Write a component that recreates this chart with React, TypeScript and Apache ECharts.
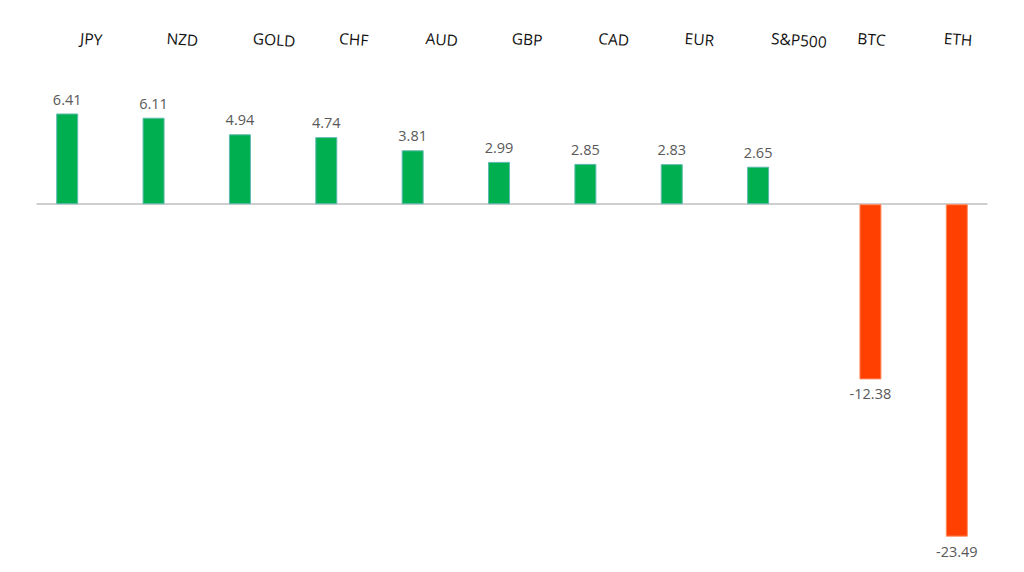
import React, { useEffect, useRef } from "react";
import * as echarts from "echarts";

const categories = ["JPY", "NZD", "GOLD", "CHF", "AUD", "GBP", "CAD", "EUR", "S&P500", "BTC", "ETH"];
const gains = [6.41, 6.11, 4.94, 4.74, 3.81, 2.99, 2.85, 2.83, 2.65, null, null];
const losses = [null, null, null, null, null, null, null, null, null, -12.38, -23.49];

export default function App() {
  const ref = useRef<HTMLDivElement>(null);
  useEffect(() => {
    document.body.style.margin = "0";
    const chart = echarts.init(ref.current!, null, { renderer: "svg" });
    const font = "'Open Sans', 'Noto Sans', sans-serif";
    chart.setOption({
      animation: false,
      backgroundColor: "#ffffff",
      grid: { left: 37, right: 37, top: 91, bottom: 14, containLabel: false },
      xAxis: [
        {
          type: "category",
          data: categories,
          position: "top",
          axisLine: { show: false, onZero: false },
          axisTick: { show: false },
          axisLabel: {
            show: true,
            align: "left",
            margin: 53,
            rotate: 4,
            color: "#111111",
            fontSize: 15.5,
            fontFamily: font,
            interval: 0,
          },
        },
        {
          type: "category",
          data: categories,
          position: "bottom",
          axisLine: { show: true, onZero: true, lineStyle: { color: "#bfbfbf", width: 1.5 } },
          axisTick: { show: false },
          axisLabel: { show: false },
        },
      ],
      yAxis: {
        type: "value",
        min: -25,
        max: 8,
        show: false,
        splitLine: { show: false },
      },
      series: [
        {
          type: "bar",
          data: gains,
          barWidth: 22,
          barGap: "18%",
          itemStyle: { color: "#00b050", borderColor: "#5fb9b0", borderWidth: 1 },
          label: {
            show: true,
            position: "top",
            distance: 7,
            color: "#595959",
            fontSize: 14.5,
            fontFamily: font,
            formatter: (p: any) => Number(p.value).toFixed(2),
          },
        },
        {
          type: "bar",
          data: losses,
          barWidth: 22,
          barGap: "18%",
          itemStyle: { color: "#ff4000", borderColor: "#ff8a5c", borderWidth: 1 },
          label: {
            show: true,
            position: "bottom",
            distance: 7,
            color: "#595959",
            fontSize: 14.5,
            fontFamily: font,
            formatter: (p: any) => Number(p.value).toFixed(2),
          },
        },
      ],
    });
    return () => chart.dispose();
  }, []);
  return <div ref={ref} style={{ width: 1024, height: 572 }} />;
}
